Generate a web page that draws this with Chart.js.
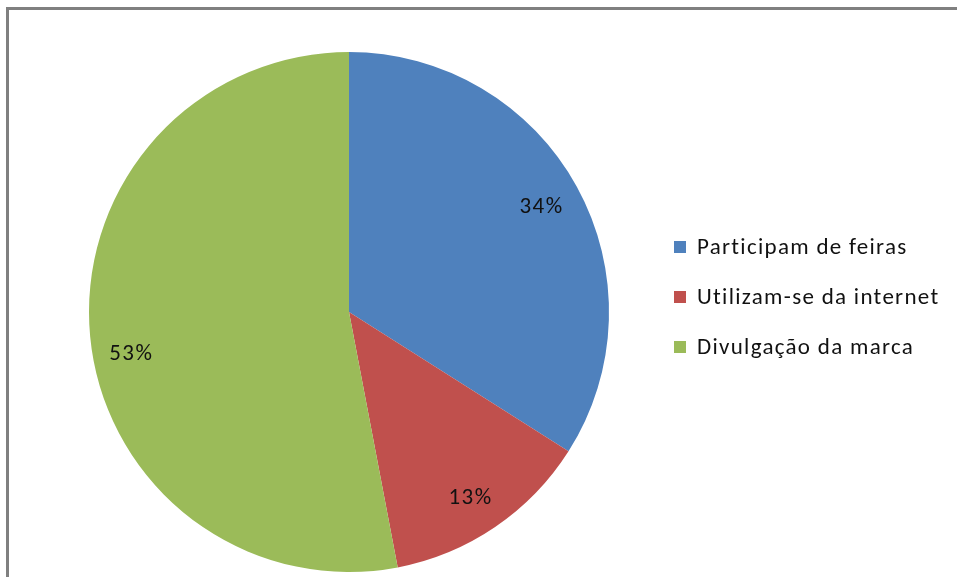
<!DOCTYPE html>
<html>
<head>
<meta charset="utf-8">
<script src="https://cdn.jsdelivr.net/npm/chart.js@4"></script>
<style>
  html, body { margin: 0; padding: 0; background: #fff; }
  #wrap { position: relative; width: 957px; height: 577px; overflow: hidden; }
  #frame {
    position: absolute; left: 6px; top: 7px; right: -10px; bottom: -10px;
    border-top: 3px solid #808080; border-left: 3px solid #808080;
  }
  canvas { position: absolute; left: 0; top: 0; }
</style>
</head>
<body>
<div id="wrap">
  <div id="frame"></div>
  <canvas id="pieChart" width="957" height="577"></canvas>
</div>
<script>
// Slices, clockwise from 12 o'clock
const categories = ['Participam de feiras', 'Utilizam-se da internet', 'Divulgação da marca'];
const shares = [34, 13, 53];
const sliceColors = ['#4F81BD', '#C0504D', '#9BBB59'];

const FONT = "Carlito, 'Open Sans', sans-serif";
// small nudges so the percent labels sit where the office-style layout puts them
const labelNudge = [[0, 1], [-2, 5], [1, 22]];

// Percent labels inside each slice
const sliceLabels = {
  id: 'sliceLabels',
  afterDatasetsDraw(chart) {
    const ctx = chart.ctx;
    const meta = chart.getDatasetMeta(0);
    ctx.save();
    ctx.font = '23px ' + FONT;
    ctx.letterSpacing = '1.4px';
    ctx.fillStyle = '#111';
    ctx.textAlign = 'center';
    ctx.textBaseline = 'middle';
    meta.data.forEach((arc, i) => {
      const { x, y, startAngle, endAngle, outerRadius } = arc.getProps(['x', 'y', 'startAngle', 'endAngle', 'outerRadius'], true);
      const mid = (startAngle + endAngle) / 2;
      const r = outerRadius * 0.845;
      ctx.fillText(shares[i] + '%', x + Math.cos(mid) * r + labelNudge[i][0], y + Math.sin(mid) * r + labelNudge[i][1]);
    });
    ctx.restore();
  }
};

// Legend on the right, drawn by hand
const sideLegend = {
  id: 'sideLegend',
  afterDraw(chart) {
    const ctx = chart.ctx;
    ctx.save();
    ctx.font = '23px ' + FONT;
    ctx.letterSpacing = '1.3px';
    ctx.textBaseline = 'middle';
    categories.forEach((label, i) => {
      const cy = 247 + i * 50;
      ctx.fillStyle = sliceColors[i];
      ctx.fillRect(674, cy - 6, 12, 12);
      ctx.fillStyle = '#111';
      ctx.fillText(label, 697, cy + 1);
    });
    ctx.restore();
  }
};

new Chart(document.getElementById('pieChart'), {
  type: 'pie',
  data: {
    labels: categories,
    datasets: [{
      data: shares,
      backgroundColor: sliceColors,
      borderWidth: 0
    }]
  },
  options: {
    responsive: false,
    animation: false,
    layout: { padding: { left: 89, top: 52, right: 348, bottom: 5 } },
    plugins: {
      legend: { display: false },
      tooltip: { enabled: false }
    }
  },
  plugins: [sliceLabels, sideLegend]
});
</script>
</body>
</html>
